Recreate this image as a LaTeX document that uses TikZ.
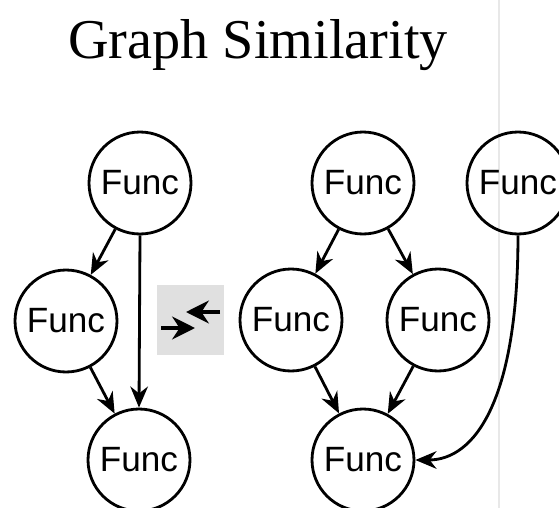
\documentclass[tikz,border=0pt]{standalone}
\usepackage{fontspec}
\usetikzlibrary{arrows.meta}
\setmainfont{Liberation Serif}
\newfontfamily\funcfont{Liberation Sans}
\tikzset{
    func/.style={circle, draw, line width=1.6pt, minimum size=2.04cm, inner sep=0pt,
        font=\funcfont\fontsize{20}{20}\selectfont},
    link/.style={->, line width=1.6pt}
}
\begin{document}
\begin{tikzpicture}[>={Stealth[length=12pt, width=10pt]}, x=0.02cm, y=-0.02cm]
        \useasboundingbox (0, 0) rectangle (559, 508);
        \draw[black!9, line width=1pt] (499, 0)--(499, 508);
        \node[font=\fontsize{32}{32}\selectfont, anchor=base, inner sep=0pt] (title) at (258, 58) {Graph Similarity};
        % left graph
        \node[func] (ltop) at (140, 183) {Func};
        \node[func] (lmid) at (66, 321) {Func};
        \node[func] (lbot) at (139, 460) {Func};
        \draw[link] (ltop)--(lmid);
        \draw[link] (ltop.south)--(lbot.north);
        \draw[link] (lmid)--(lbot);
        % compare icon
        \fill[black!12] (157, 285) rectangle (224, 355);
        \coordinate (ina) at (161, 328);
        \coordinate (inb) at (195, 328);
        \coordinate (outa) at (220, 312);
        \coordinate (outb) at (186, 312);
        \draw[link, line width=2.8pt, -{Stealth[length=13pt, width=13pt]}] (ina)--(inb);
        \draw[link, line width=2.8pt, -{Stealth[length=13pt, width=13pt]}] (outa)--(outb);
        % right graph
        \node[func] (rtop) at (363, 183) {Func};
        \node[func] (rleft) at (291, 320) {Func};
        \node[func] (rright) at (438, 320) {Func};
        \node[func] (rbot) at (363, 460) {Func};
        \node[func] (far) at (518, 183) {Func};
        \draw[link] (rtop)--(rleft);
        \draw[link] (rtop)--(rright);
        \draw[link] (rleft)--(rbot);
        \draw[link] (rright)--(rbot);
        \draw[link] (far.south) .. controls (518, 400) and (475, 460) .. (rbot.east);
    \end{tikzpicture}
\end{document}
